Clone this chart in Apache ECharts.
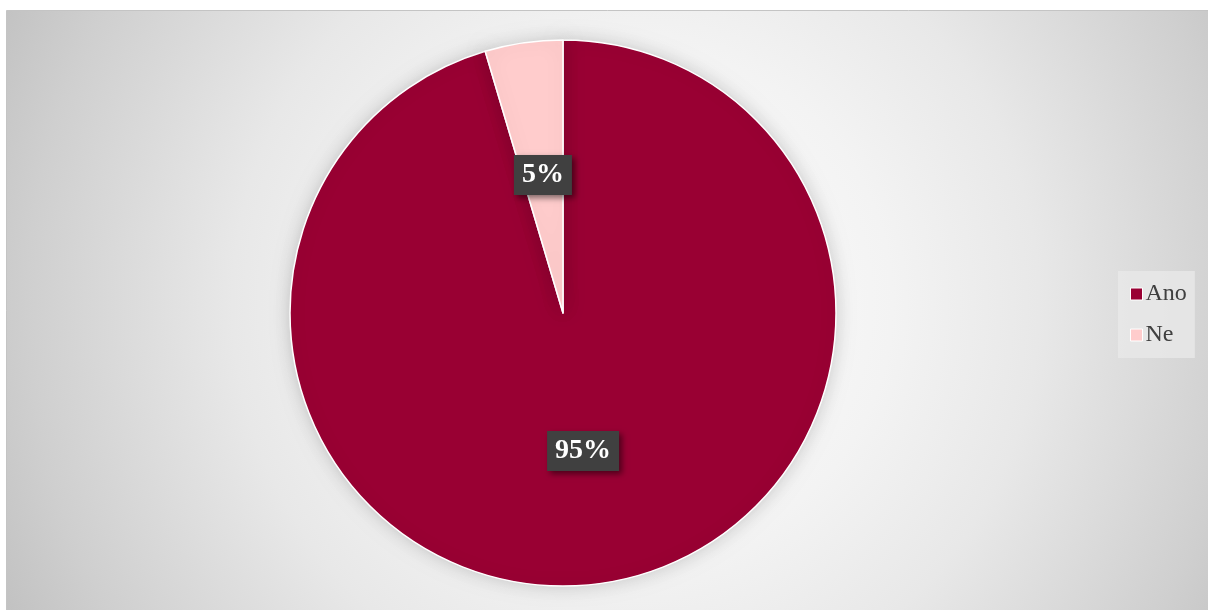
<!DOCTYPE html>
<html>
<head>
<meta charset="utf-8">
<script src="https://cdn.jsdelivr.net/npm/echarts@6/dist/echarts.min.js"></script>
<style>
html,body{margin:0;padding:0;background:#fff;}
#main{width:1208px;height:610px;}
</style>
</head>
<body>
<div id="main"></div>
<script>
var categories = ['Ano', 'Ne'];
var values = [95.4, 4.6];
var sliceColors = ['#990033', '#ffcccc'];

var chart = echarts.init(document.getElementById('main'));
chart.setOption({
    animation: false,
    graphic: [{
        type: 'rect',
        z: -10,
        shape: {x: 6.5, y: 10.5, width: 1210, height: 610},
        style: {
            fill: {
                type: 'radial', x: 0.52, y: 0.48, r: 1.2,
                colorStops: [
                    {offset: 0, color: '#ffffff'},
                    {offset: 0.35, color: '#f3f3f3'},
                    {offset: 0.55, color: '#e8e8e8'},
                    {offset: 0.83, color: '#cfcfcf'},
                    {offset: 1, color: '#bdbdbd'}
                ]
            },
            stroke: '#c4c4c4',
            lineWidth: 1
        }
    }],
    legend: {
        orient: 'vertical',
        left: 1118,
        top: 271,
        padding: [11, 8, 11, 12],
        itemWidth: 12,
        itemHeight: 12,
        itemGap: 17,
        backgroundColor: 'rgba(232,232,232,0.8)',
        icon: 'rect',
        itemStyle: {borderColor: '#fff', borderWidth: 1},
        textStyle: {fontFamily: 'Liberation Serif', fontSize: 24, color: '#404040', padding: [0, 0, 0, -2]},
        data: categories
    },
    series: [{
        type: 'pie',
        center: [563, 313],
        radius: 273,
        startAngle: 90,
        clockwise: true,
        percentPrecision: 0,
        itemStyle: {borderColor: '#ffffff', borderWidth: 1.5, shadowColor: 'rgba(0,0,0,0.18)', shadowBlur: 18},
        label: {
            show: true,
            position: 'inside',
            formatter: '{d}%',
            fontFamily: 'Liberation Serif',
            fontWeight: 'bold',
            fontSize: 28,
            color: '#ffffff',
            backgroundColor: '#404040',
            padding: [7, 8, 5, 8],
            shadowColor: 'rgba(0,0,0,0.5)',
            shadowBlur: 6,
            shadowOffsetX: 3,
            shadowOffsetY: 3
        },
        labelLine: {show: false},
        emphasis: {disabled: true},
        data: categories.map(function (c, i) {
            return {name: c, value: values[i], itemStyle: {color: sliceColors[i]}};
        })
    }]
});
</script>
</body>
</html>
